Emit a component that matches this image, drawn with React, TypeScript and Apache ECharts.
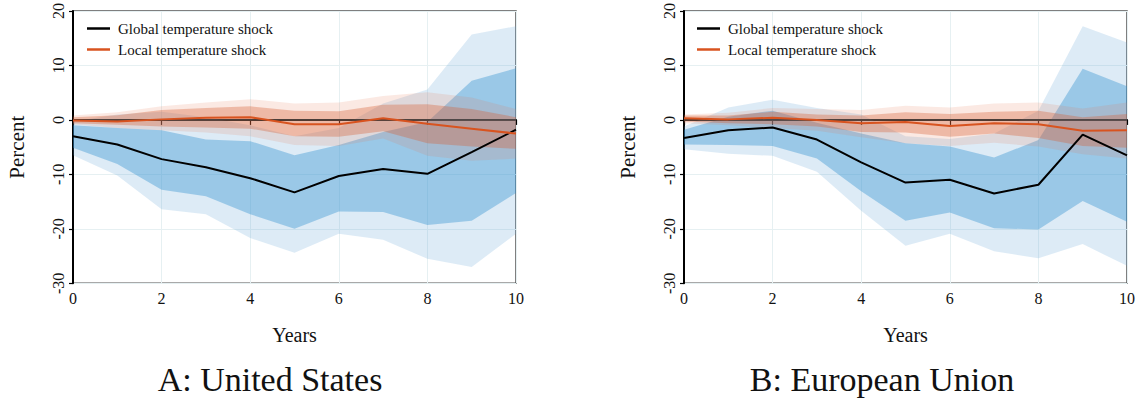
import React, { useEffect, useRef } from "react";
import * as echarts from "echarts";

const years = [0, 1, 2, 3, 4, 5, 6, 7, 8, 9, 10];
const yTicks = [-30, -20, -10, 0, 10, 20];

// A: United States
const usGlobal = [-3.0, -4.5, -7.2, -8.7, -10.7, -13.3, -10.3, -9.0, -9.9, -5.9, -1.8];
const usGlobalInnerUp = [-1.0, -1.5, -1.9, -3.6, -3.9, -6.5, -4.6, -2.2, -0.4, 7.2, 9.5];
const usGlobalInnerLo = [-5.1, -8.1, -12.8, -14.0, -17.3, -20.0, -16.8, -16.9, -19.3, -18.5, -13.4];
const usGlobalOuterUp = [-0.3, 1.0, 1.5, 0.5, -1.0, -3.0, -1.5, 3.0, 5.6, 15.7, 17.2];
const usGlobalOuterLo = [-6.5, -10.2, -16.4, -17.3, -21.7, -24.4, -20.9, -22.0, -25.5, -27.0, -20.9];
const usLocal = [-0.1, -0.3, 0.1, 0.4, 0.5, -0.8, -0.8, 0.3, -0.7, -1.6, -2.5];
const usLocalInnerUp = [0.5, 0.85, 1.8, 2.2, 2.5, 1.7, 1.6, 2.8, 2.9, 2.0, 0.5];
const usLocalInnerLo = [-0.6, -0.9, -1.2, -1.4, -1.6, -3.0, -3.1, -2.1, -4.3, -4.9, -5.3];
const usLocalOuterUp = [0.8, 1.4, 2.5, 3.2, 3.8, 3.0, 3.2, 4.4, 5.1, 4.1, 2.0];
const usLocalOuterLo = [-0.8, -1.5, -1.9, -2.3, -3.0, -4.6, -4.8, -3.4, -6.6, -7.5, -7.1];

// B: European Union
const euGlobal = [-3.3, -1.9, -1.4, -3.6, -7.8, -11.5, -11.0, -13.5, -11.9, -2.7, -6.5];
const euGlobalInnerUp = [-1.8, 0.6, 1.7, -0.5, -2.5, -4.3, -4.9, -6.9, -3.7, 9.4, 6.2];
const euGlobalInnerLo = [-4.5, -4.6, -4.8, -7.1, -13.1, -18.5, -17.0, -19.9, -20.1, -14.9, -18.7];
const euGlobalOuterUp = [-1.2, 2.3, 3.7, 2.2, 1.0, -3.0, -3.5, -2.5, 1.7, 17.2, 14.2];
const euGlobalOuterLo = [-5.4, -6.2, -6.6, -9.5, -16.7, -23.1, -20.9, -24.1, -25.4, -22.8, -26.8];
const euLocal = [0.3, 0.1, 0.4, 0.0, -0.6, -0.4, -1.1, -0.6, -0.8, -2.0, -1.9];
const euLocalInnerUp = [0.8, 0.8, 1.5, 1.0, 0.8, 1.4, 1.1, 1.5, 1.7, 0.5, 1.1];
const euLocalInnerLo = [-0.3, -0.6, -0.8, -1.2, -2.2, -2.3, -3.1, -2.5, -3.3, -4.8, -5.1];
const euLocalOuterUp = [1.0, 1.3, 2.2, 2.0, 1.8, 2.6, 2.3, 3.0, 3.2, 2.1, 3.2];
const euLocalOuterLo = [-0.6, -1.0, -1.5, -2.0, -3.2, -4.3, -4.8, -4.2, -4.9, -6.3, -7.1];

const GLOBAL = "Global temperature shock";
const LOCAL = "Local temperature shock";
const FONT = "Liberation Serif";

const BLUE_OUTER = "rgba(100,165,215,0.22)";
const BLUE_INNER = "rgba(40,140,205,0.37)";
const ORANGE_OUTER = "rgba(228,120,80,0.16)";
const ORANGE_INNER = "rgba(215,95,50,0.34)";
const ORANGE_LINE = "#d8531f";

function band(gi: number, upper: number[], lower: number[], fill: string) {
  return {
    type: "custom",
    xAxisIndex: gi,
    yAxisIndex: gi,
    silent: true,
    clip: false,
    data: [[0, 0]],
    renderItem: (_p: any, api: any) => {
      const pts: number[][] = [];
      for (let i = 0; i < years.length; i++) pts.push(api.coord([years[i], upper[i]]));
      for (let i = years.length - 1; i >= 0; i--) pts.push(api.coord([years[i], lower[i]]));
      return { type: "polygon", shape: { points: pts }, style: { fill, stroke: "none" } };
    },
  };
}

function line(gi: number, name: string, vals: number[], color: string, width: number) {
  return {
    type: "line",
    name,
    xAxisIndex: gi,
    yAxisIndex: gi,
    data: years.map((x, i) => [x, vals[i]]),
    showSymbol: false,
    symbol: "none",
    color,
    lineStyle: { color, width },
    silent: true,
  };
}

function panelSeries(gi: number, d: any) {
  return [
    band(gi, d.gOU, d.gOL, BLUE_OUTER),
    band(gi, d.gIU, d.gIL, BLUE_INNER),
    band(gi, d.lOU, d.lOL, ORANGE_OUTER),
    band(gi, d.lIU, d.lIL, ORANGE_INNER),
    {
      type: "line",
      name: "zero",
      xAxisIndex: gi,
      yAxisIndex: gi,
      data: [[years[0], 0], [years[years.length - 1], 0]],
      showSymbol: false,
      symbol: "none",
      lineStyle: { color: "#444", width: 1.2 },
      silent: true,
    },
    line(gi, GLOBAL, d.g, "#000000", 2),
    line(gi, LOCAL, d.l, ORANGE_LINE, 2),
  ];
}

export default function App() {
  const ref = useRef<HTMLDivElement>(null);
  useEffect(() => {
    if (!ref.current) return;
    const chart = echarts.init(ref.current, undefined, { renderer: "svg" });
    const grids = [
      { left: 73, top: 7.3, width: 443, height: 276 },
      { left: 684, top: 7.3, width: 443, height: 276 },
    ].map((g) => ({ ...g, show: true, borderColor: "#555", borderWidth: 1.5, backgroundColor: "transparent" }));

    const xAxes = [0, 1].map((gi) => ({
      type: "value",
      gridIndex: gi,
      min: 0,
      max: 10,
      interval: 2,
      name: "Years",
      nameLocation: "middle",
      nameGap: 42,
      nameTextStyle: { fontFamily: FONT, fontSize: 20, color: "#111" },
      axisLine: { show: true, lineStyle: { color: "#000", width: 2 } },
      axisTick: { show: true, length: 5, lineStyle: { color: "#000", width: 1.2 } },
      axisLabel: { fontFamily: FONT, fontSize: 16, color: "#111", margin: 7 },
      splitLine: { show: true, lineStyle: { color: "#e6f0f2", width: 1 } },
    }));
    const yAxes = [0, 1].map((gi) => ({
      type: "value",
      gridIndex: gi,
      min: yTicks[0],
      max: yTicks[yTicks.length - 1],
      interval: 10,
      name: "Percent",
      nameLocation: "middle",
      nameRotate: 90,
      nameGap: 46,
      nameTextStyle: { fontFamily: FONT, fontSize: 21, color: "#111" },
      axisLine: { show: true, lineStyle: { color: "#000", width: 2 } },
      axisTick: { show: true, length: 4, lineStyle: { color: "#000", width: 1.2 } },
      axisLabel: { fontFamily: FONT, fontSize: 16, color: "#111", rotate: 90, margin: 7 },
      splitLine: { show: true, lineStyle: { color: "#e6f0f2", width: 1 } },
    }));

    const legends = [82, 692].map((left) => ({
      left,
      top: 16,
      orient: "vertical",
      data: [GLOBAL, LOCAL],
      icon: "rect",
      itemWidth: 23,
      itemHeight: 2.5,
      itemGap: 6,
      selectedMode: false,
      textStyle: { fontFamily: FONT, fontSize: 15, color: "#111", padding: [0, 0, 0, 3] },
    }));

    const us = {
      g: usGlobal, gIU: usGlobalInnerUp, gIL: usGlobalInnerLo, gOU: usGlobalOuterUp, gOL: usGlobalOuterLo,
      l: usLocal, lIU: usLocalInnerUp, lIL: usLocalInnerLo, lOU: usLocalOuterUp, lOL: usLocalOuterLo,
    };
    const eu = {
      g: euGlobal, gIU: euGlobalInnerUp, gIL: euGlobalInnerLo, gOU: euGlobalOuterUp, gOL: euGlobalOuterLo,
      l: euLocal, lIU: euLocalInnerUp, lIL: euLocalInnerLo, lOU: euLocalOuterUp, lOL: euLocalOuterLo,
    };

    chart.setOption({
      animation: false,
      backgroundColor: "#fff",
      title: [
        { text: "A: United States", left: 265, top: 357, textAlign: "center", textStyle: { fontFamily: FONT, fontSize: 34, fontWeight: "normal", color: "#111" } },
        { text: "B: European Union", left: 877, top: 357, textAlign: "center", textStyle: { fontFamily: FONT, fontSize: 34, fontWeight: "normal", color: "#111" } },
      ],
      grid: grids,
      xAxis: xAxes,
      yAxis: yAxes,
      legend: legends,
      series: [...panelSeries(0, us), ...panelSeries(1, eu)],
    });
    return () => chart.dispose();
  }, []);
  return <div ref={ref} style={{ position: "absolute", left: 0, top: 0, width: 1139, height: 400 }} />;
}
